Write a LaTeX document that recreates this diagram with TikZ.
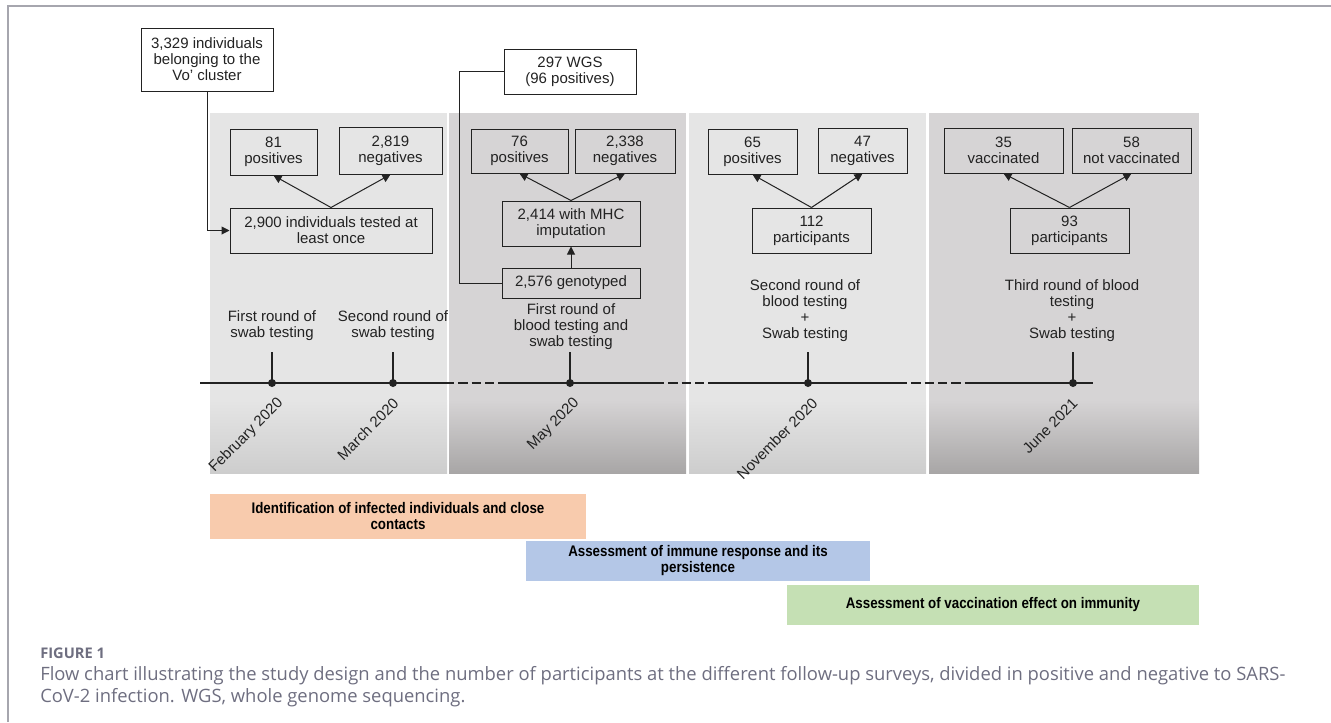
\documentclass[tikz,border=0pt]{standalone}
\usepackage{fontspec}
\setmainfont{Liberation Sans}
\newfontfamily\capfont{Open Sans}
\newfontfamily\narrowfont{Liberation Sans}[FakeStretch=0.87]
\usepackage{xcolor}
\usetikzlibrary{arrows.meta,positioning,calc}

\definecolor{panellight}{HTML}{E5E5E5}
\definecolor{panellightlow}{HTML}{CDCDCD}
\definecolor{paneldark}{HTML}{D6D4D5}
\definecolor{paneldarklow}{HTML}{A8A6A6}
\definecolor{idorange}{HTML}{F8CBAD}
\definecolor{immblue}{HTML}{B4C7E7}
\definecolor{vacgreen}{HTML}{C5E0B4}
\definecolor{capgray}{HTML}{6E6E80}
\definecolor{framegray}{HTML}{A6A6AE}
\definecolor{inkgray}{HTML}{222222}

\tikzset{
  numbox/.style={draw=inkgray, line width=0.75pt, align=center, inner sep=0pt,
    minimum width=#1, minimum height=33.75pt, text=inkgray,
    font=\fontsize{11.25}{12}\selectfont},
  numbox/.default=89.25pt,
  arr/.style={-{Triangle[width=6pt,length=6pt]}, line width=0.75pt, draw=inkgray},
  roundlbl/.style={align=center, text=inkgray, font=\fontsize{11.25}{12}\selectfont},
  datelbl/.style={rotate=45, anchor=east, inner sep=0pt, text=inkgray,
    font=\fontsize{11.25}{12}\selectfont},
  phase/.style={align=center, inner sep=0pt, minimum height=30pt,
    font=\narrowfont\bfseries\fontsize{11.5}{12}\selectfont},
  tline/.style={line width=0.9pt, draw=inkgray},
}

\begin{document}
\begin{tikzpicture}[x=0.75pt, y=-0.75pt]
        \useasboundingbox (0,0) rectangle (1331,722);
        \draw[framegray, line width=1pt] (8,722) -- (8,6) -- (1331,6);

        % Shaded periods
        \fill[panellight] (210,113) rectangle (447,473);
        \shade[top color=panellight, bottom color=panellightlow] (210,400) rectangle (447,473);
        \fill[paneldark] (449,113) rectangle (686,473);
        \shade[top color=paneldark, bottom color=paneldarklow] (449,400) rectangle (686,473);
        \fill[panellight] (689,113) rectangle (926,473);
        \shade[top color=panellight, bottom color=panellightlow] (689,400) rectangle (926,473);
        \fill[paneldark] (929,113) rectangle (1199,473);
        \shade[top color=paneldark, bottom color=paneldarklow] (929,400) rectangle (1199,473);

        % Boxes
        \node[numbox=99pt, minimum height=47.25pt] (cluster) at (207,59.5) {3,329 individuals\\belonging to the\\Vo' cluster};
        \node[numbox=151.5pt] (tested) at (331,230.5) {2,900 individuals tested at\\least once};
        \node[numbox=65.25pt, minimum height=34.5pt] (pos1) at (273.5,152) {81\\positives};
        \node[numbox=77.25pt, minimum height=35.25pt] (neg1) at (390.5,150.5) {2,819\\negatives};

        \node[numbox=99pt] (wgs) at (570,71.5) {297 WGS\\(96 positives)};
        \node[numbox=72.75pt, minimum height=33pt] (pos2) at (519.5,151) {76\\positives};
        \node[numbox=75pt, minimum height=33pt] (neg2) at (625,151) {2,338\\negatives};
        \node[numbox=103.5pt] (mhc) at (571,223.5) {2,414 with MHC\\imputation};
        \node[numbox=103.5pt, minimum height=22.5pt] (geno) at (571,283) {2,576 genotyped};

        \node[numbox=66.75pt] (pos3) at (752.5,151.5) {65\\positives};
        \node[numbox=66.75pt] (neg3) at (862.5,150.5) {47\\negatives};
        \node[numbox] (part3) at (811.5,230.5) {112\\participants};

        \node[numbox] (vac) at (1003.5,150.5) {35\\vaccinated};
        \node[numbox] (novac) at (1131.5,150.5) {58\\not vaccinated};
        \node[numbox] (part4) at (1069.5,230.5) {93\\participants};

        % Connectors
        \draw[arr] (cluster.south) |- (tested.west);
        \draw[arr] (tested.north) -- (pos1.south);
        \draw[arr] (tested.north) -- (neg1.south);
        \draw[line width=0.75pt, inkgray] (wgs.west) -- ++(-44,0) |- (geno.west);
        \draw[arr] (geno.north) -- (mhc.south);
        \draw[arr] (mhc.north) -- (pos2.south);
        \draw[arr] (mhc.north) -- (neg2.south);
        \draw[arr] (part3.north) -- (pos3.south);
        \draw[arr] (part3.north) -- (neg3.south);
        \draw[arr] (part4.north) -- (vac.south);
        \draw[arr] (part4.north) -- (novac.south);

        % Round labels
        \node[roundlbl] (lbl1) at (272,326) {First round of\\swab testing};
        \node[roundlbl] (lbl2) at (393,326) {Second round of\\swab testing};
        \node[roundlbl] (lbl3) at (571,327) {First round of\\blood testing and\\swab testing};
        \node[roundlbl] (lbl4) at (805,310.5) {Second round of\\blood testing\\+\\Swab testing};
        \node[roundlbl] (lbl5) at (1072,311) {Third round of blood\\testing\\+\\Swab testing};

        % Timeline
        \draw[tline] (200,383) -- (445,383);
        \draw[tline, dash pattern=on 7pt off 3pt] (445,383) -- (507,383);
        \draw[tline] (507,383) -- (655,383);
        \draw[tline, dash pattern=on 7pt off 3pt] (655,383) -- (718,383);
        \draw[tline] (718,383) -- (898,383);
        \draw[tline, dash pattern=on 7pt off 3pt] (898,383) -- (968,383);
        \draw[tline] (968,383) -- (1093,383);

        \coordinate (feb) at (272,383);
        \coordinate (mar) at (393,383);
        \coordinate (may) at (570,383);
        \coordinate (nov) at (808,383);
        \coordinate (jun) at (1073,383);
        \foreach \d in {feb,mar,may,nov,jun} {
            \draw[tline] (\d) -- ++(0,-31);
            \fill[inkgray] (\d) circle (4);
        }

        \node[datelbl] at ($(feb)+(9,18)$) {February 2020};
        \node[datelbl] at ($(mar)+(3,18)$) {March 2020};
        \node[datelbl] at ($(may)+(7,18)$) {May 2020};
        \node[datelbl] at ($(nov)+(7,18)$) {November 2020};
        \node[datelbl] at ($(jun)+(2,18)$) {June 2021};

        % Study aims
        \node[phase, fill=idorange, minimum width=282pt, minimum height=33.75pt] (aim1) at (398,516.5) {Identification of infected individuals and close\\contacts};
        \node[phase, fill=immblue, minimum width=258pt] (aim2) at (698,561) {Assessment of immune response and its\\persistence};
        \node[phase, fill=vacgreen, minimum width=309pt] (aim3) at (993,605) {Assessment of vaccination effect on immunity};

        % Caption
        \node[anchor=west, inner sep=0pt, text=capgray, font=\capfont\bfseries\fontsize{11}{13}\selectfont] (figlbl) at (40,653) {FIGURE 1};
        \node[anchor=north west, inner sep=0pt, align=left, text=capgray, font=\capfont\fontsize{13.8}{16.5}\selectfont] (caption) at (40,666) {Flow chart illustrating the study design and the number of participants at the different follow-up surveys, divided in positive and negative to SARS-\\CoV-2 infection. WGS, whole genome sequencing.};
    \end{tikzpicture}
\end{document}
